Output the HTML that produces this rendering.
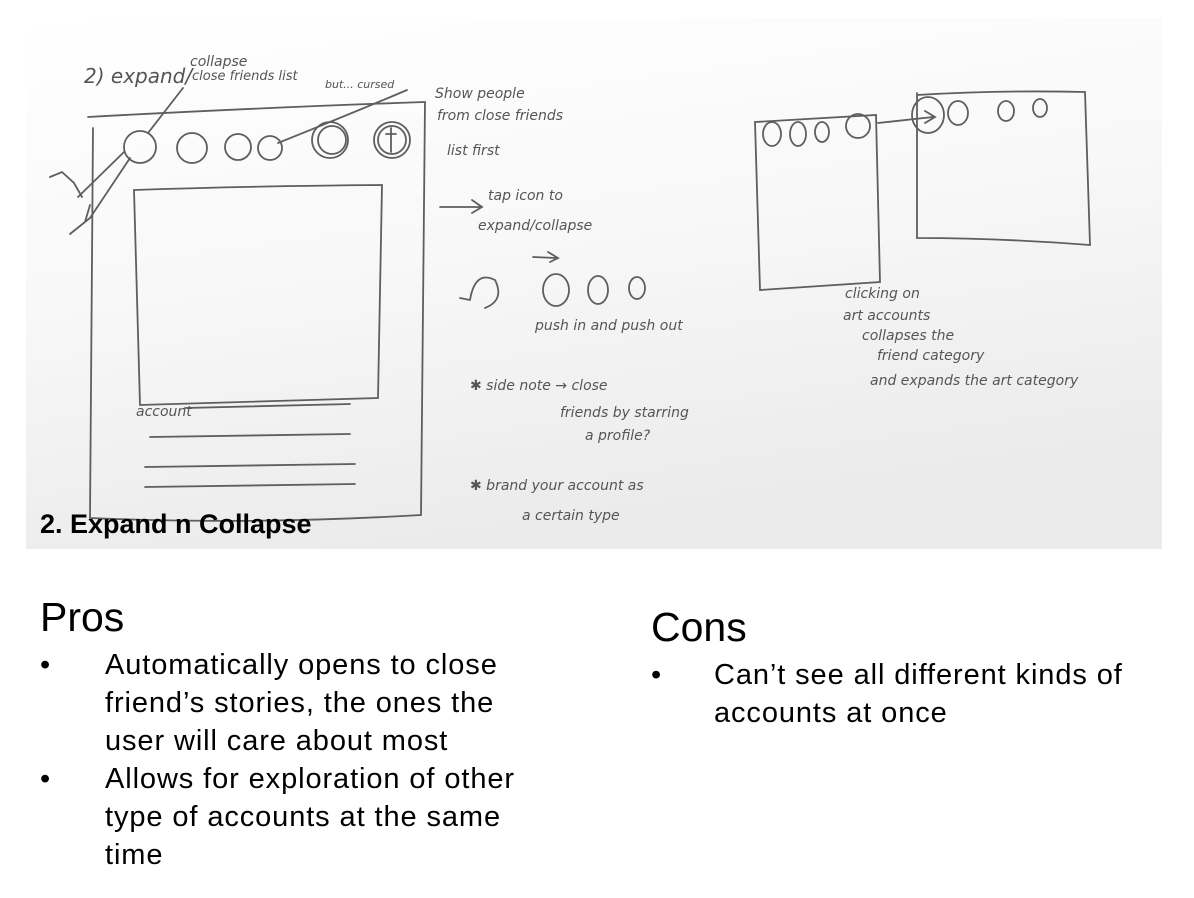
<!DOCTYPE html>
<html><head><meta charset="utf-8"><style>
html,body{margin:0;padding:0;background:#fff;width:1194px;height:898px;overflow:hidden;position:relative;font-family:"Liberation Sans",sans-serif;}
.t{position:absolute;color:#000;white-space:nowrap;}
.h{font-size:41px;}
.b{font-size:29px;line-height:38px;letter-spacing:0.9px;}
</style></head><body>
<svg width="1194" height="560" style="position:absolute;left:0;top:0">
<defs><linearGradient id="g" x1="0" y1="0" x2="0.3" y2="1"><stop offset="0" stop-color="#ffffff"/><stop offset="0.5" stop-color="#f8f8f8"/><stop offset="1" stop-color="#ebebeb"/></linearGradient></defs>
<rect x="26" y="18" width="1136" height="531" fill="url(#g)"/>
<g fill="none" stroke="#5e5e5e" stroke-width="1.8" stroke-linecap="round">
<path d="M88 117 Q250 108 425 102 L421 515 Q250 525 90 518 L93 128"/>
<path d="M134 190 Q250 186 382 185 L378 398 L140 405 Z"/>
<circle cx="140" cy="147" r="16"/><circle cx="192" cy="148" r="15"/><circle cx="238" cy="147" r="13"/><circle cx="270" cy="148" r="12"/>
<circle cx="330" cy="140" r="18"/><circle cx="332" cy="140" r="14"/>
<circle cx="392" cy="140" r="18"/><circle cx="392" cy="140" r="14"/><path d="M391 128 L391 152 M386 134 L396 134"/>
<path d="M148 133 L183 88 M278 143 Q360 110 407 90"/>
<path d="M124 152 L78 197 M130 158 L90 218 L70 234 M50 177 L62 172 L74 183 L82 197 M90 205 L85 222"/>
<path d="M185 408 L350 404 M150 437 L350 434 M145 467 L355 464 M145 487 L355 484"/>
<path d="M440 207 L480 207 M472 200 L482 207 L472 213"/>
<path d="M533 257 L556 258 M548 252 L558 258 L550 262"/>
<path d="M470 300 Q475 270 495 280 Q505 300 485 308 M470 300 L460 298"/>
<ellipse cx="556" cy="290" rx="13" ry="16"/><ellipse cx="598" cy="290" rx="10" ry="14"/><ellipse cx="637" cy="288" rx="8" ry="11"/>
<path d="M755 122 Q820 118 876 115 L880 282 Q820 286 760 290 Z"/>
<ellipse cx="772" cy="134" rx="9" ry="12"/><ellipse cx="798" cy="134" rx="8" ry="12"/><ellipse cx="822" cy="132" rx="7" ry="10"/><circle cx="858" cy="126" r="12"/>
<path d="M878 123 L933 117 M925 111 L935 117 L925 123"/>
<path d="M917 95 Q1000 90 1085 92 L1090 245 Q1000 238 917 238 L917 93"/>
<ellipse cx="928" cy="115" rx="16" ry="18"/><ellipse cx="958" cy="113" rx="10" ry="12"/><ellipse cx="1006" cy="111" rx="8" ry="10"/><ellipse cx="1040" cy="108" rx="7" ry="9"/>
</g>
<g font-family="'DejaVu Sans',sans-serif" fill="#555" font-style="italic" font-size="14">
<text x="84" y="83" font-size="20">2) expand/</text><text x="190" y="66">collapse</text><text x="192" y="80" font-size="13">close friends list</text>
<text x="325" y="88" font-size="11">but... cursed</text>
<text x="435" y="98">Show people</text><text x="437" y="120">from close friends</text><text x="447" y="155">list first</text>
<text x="488" y="200">tap icon to</text><text x="478" y="230">expand/collapse</text>
<text x="535" y="330">push in and push out</text>
<text x="470" y="390">✱  side note → close</text><text x="560" y="417">friends by starring</text><text x="585" y="440">a profile?</text>
<text x="470" y="490">✱  brand your account as</text><text x="522" y="520">a certain type</text>
<text x="136" y="416">account</text>
<text x="845" y="298">clicking on</text><text x="843" y="320">art accounts</text><text x="862" y="340">collapses the</text><text x="877" y="360">friend category</text><text x="870" y="385">and expands the art category</text>
</g>
<text x="40" y="533" font-family="'Liberation Sans',sans-serif" font-weight="bold" font-size="27" fill="#000">2. Expand n Collapse</text>
</svg>
<div class="t h" style="left:40px;top:594px">Pros</div>
<div class="t b" style="left:40px;top:646px">•</div>
<div class="t b" style="left:105px;top:646px">Automatically opens to close<br>friend’s stories, the ones the<br>user will care about most</div>
<div class="t b" style="left:40px;top:760px">•</div>
<div class="t b" style="left:105px;top:760px">Allows for exploration of other<br>type of accounts at the same<br>time</div>
<div class="t h" style="left:651px;top:604px">Cons</div>
<div class="t b" style="left:651px;top:656px">•</div>
<div class="t b" style="left:714px;top:656px">Can’t see all different kinds of<br>accounts at once</div>
</body></html>
